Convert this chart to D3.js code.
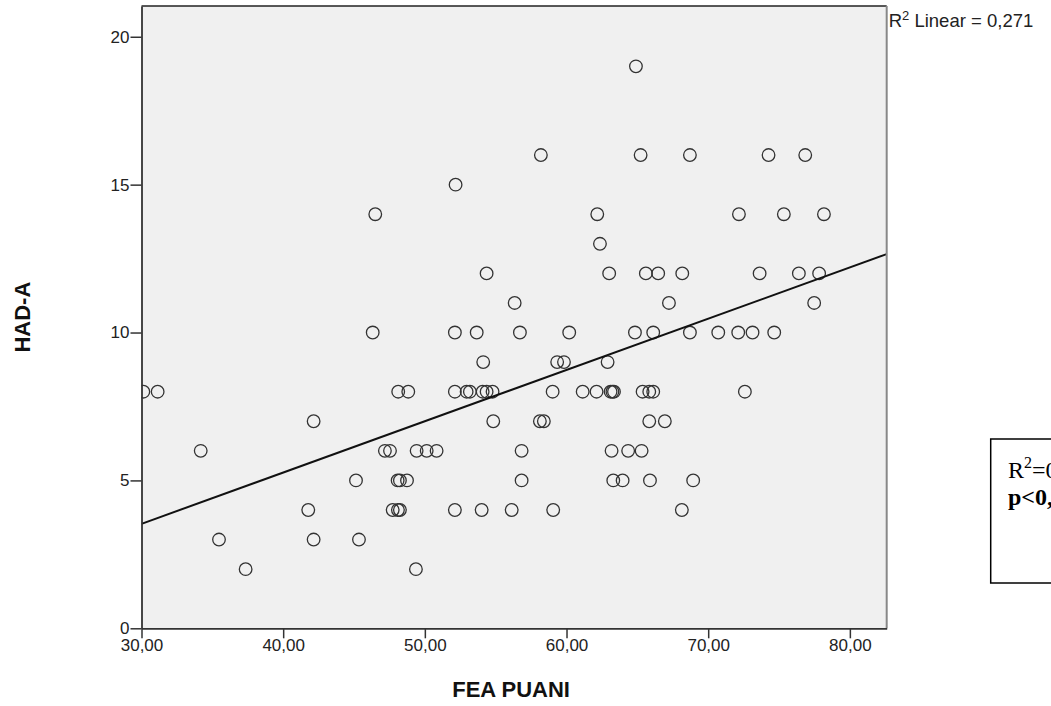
<!DOCTYPE html>
<html>
<head>
<meta charset="utf-8">
<script src="https://cdn.jsdelivr.net/npm/d3@7"></script>
<style>
  body { margin: 0; background: #fff; }
  svg { display: block; font-family: "Liberation Sans", Arial, sans-serif; }
</style>
</head>
<body>
<svg></svg>
<script>
// FEA PUANI (x) vs HAD-A (y), one entry per subject, grouped by HAD-A row
const feaScores = [
  64.90,
  58.19, 65.23, 68.71, 74.26, 76.85,
  52.17,
  46.50, 62.17, 72.17, 75.34, 78.17,
  62.36,
  54.36, 63.01, 65.60, 66.47, 68.17, 73.63, 76.40, 77.83,
  56.34, 67.23, 77.48,
  46.32, 52.12, 53.66, 56.71, 60.19, 64.83, 66.12, 68.71, 70.71, 72.12, 73.13, 74.66,
  54.12, 59.34, 59.82, 62.90,
  30.13, 31.14, 48.12, 48.83, 52.12, 52.95, 53.18, 54.08, 54.36, 54.78, 59.02, 61.14,
  62.12, 63.11, 63.24, 63.35, 65.37, 65.84, 66.12, 72.59,
  42.15, 54.83, 58.12, 58.40, 65.84, 66.94,
  34.18, 47.18, 47.54, 49.42, 50.13, 50.83, 56.83, 63.18, 64.35, 65.30,
  45.14, 48.08, 48.24, 48.74, 56.83, 63.30, 63.96, 65.89, 68.94,
  41.77, 47.73, 48.10, 48.24, 52.12, 54.01, 56.13, 59.06, 68.14,
  35.47, 42.15, 45.35,
  37.35, 49.37
];

const hadAScores = [
  19,
  16, 16, 16, 16, 16,
  15,
  14, 14, 14, 14, 14,
  13,
  12, 12, 12, 12, 12, 12, 12, 12,
  11, 11, 11,
  10, 10, 10, 10, 10, 10, 10, 10, 10, 10, 10, 10,
  9, 9, 9, 9,
  8, 8, 8, 8, 8, 8, 8, 8, 8, 8, 8, 8,
  8, 8, 8, 8, 8, 8, 8, 8,
  7, 7, 7, 7, 7, 7,
  6, 6, 6, 6, 6, 6, 6, 6, 6, 6,
  5, 5, 5, 5, 5, 5, 5, 5, 5,
  4, 4, 4, 4, 4, 4, 4, 4, 4,
  3, 3, 3,
  2, 2
];

// Axis ranges and ticks
const xDomain = [30, 82.6];
const yDomain = [0, 21.04];
const xTicks = [30, 40, 50, 60, 70, 80];
const yTicks = [0, 5, 10, 15, 20];

// Linear fit line (intercept, slope) as drawn on the chart
const fitIntercept = -1.67;
const fitSlope = 0.1734;
const r2Value = "0,271";
const pValue = "0,001";

const points = feaScores.map((x, i) => ({ x, y: hadAScores[i] }));

const width = 1051;
const height = 706;
const margin = { top: 6, right: 164.3, bottom: 77.7, left: 141.5 };
const plotW = width - margin.left - margin.right;
const plotH = height - margin.top - margin.bottom;

const svg = d3.select("svg").attr("width", width).attr("height", height);

const x = d3.scaleLinear().domain(xDomain).range([0, plotW]);
const y = d3.scaleLinear().domain(yDomain).range([plotH, 0]);

const g = svg.append("g").attr("transform", `translate(${margin.left},${margin.top})`);

// Plot background
g.append("rect")
  .attr("width", plotW)
  .attr("height", plotH)
  .attr("fill", "#f0f0f0");

g.append("clipPath")
  .attr("id", "plot-clip")
  .append("rect")
  .attr("width", plotW)
  .attr("height", plotH);

// Points (hollow circles, clipped to the frame)
g.append("g")
  .attr("clip-path", "url(#plot-clip)")
  .selectAll("circle")
  .data(points)
  .join("circle")
  .attr("cx", (d) => x(d.x))
  .attr("cy", (d) => y(d.y))
  .attr("r", 6.3)
  .attr("fill", "none")
  .attr("stroke", "#333")
  .attr("stroke-width", 1.3);

// Fit line across the full x range
const fitData = xDomain.map((v) => ({ x: v, y: fitIntercept + fitSlope * v }));
g.append("path")
  .datum(fitData)
  .attr("clip-path", "url(#plot-clip)")
  .attr("d", d3.line().x((d) => x(d.x)).y((d) => y(d.y)))
  .attr("fill", "none")
  .attr("stroke", "#111")
  .attr("stroke-width", 2);

// Frame: top and right edges
g.append("line")
  .attr("x1", 0).attr("x2", plotW).attr("y1", 0).attr("y2", 0)
  .attr("stroke", "#222").attr("stroke-width", 1.5);
g.append("line")
  .attr("x1", plotW).attr("x2", plotW).attr("y1", 0).attr("y2", plotH)
  .attr("stroke", "#888").attr("stroke-width", 2);

// Axes
const fmt = (d) => d3.format(".2f")(d).replace(".", ",");

const xAxis = g.append("g")
  .attr("transform", `translate(0,${plotH})`)
  .call(d3.axisBottom(x).tickValues(xTicks).tickFormat(fmt).tickSize(10).tickPadding(1).tickSizeOuter(0));

const yAxis = g.append("g")
  .call(d3.axisLeft(y).tickValues(yTicks).tickSize(11).tickPadding(1).tickSizeOuter(0));

[xAxis, yAxis].forEach((ax) => {
  ax.select(".domain").attr("stroke", "#333").attr("stroke-width", 1.8);
  ax.selectAll(".tick line").attr("stroke", "#333").attr("stroke-width", 1.5);
  ax.selectAll(".tick text")
    .attr("fill", "#222")
    .style("font-family", "'Liberation Sans', Arial, sans-serif")
    .style("font-size", "17px");
});

// Axis titles
svg.append("text")
  .attr("x", margin.left + plotW / 2 - 3)
  .attr("y", 697)
  .attr("text-anchor", "middle")
  .style("font-size", "22px")
  .style("font-weight", "bold")
  .attr("fill", "#111")
  .text("FEA PUANI");

svg.append("text")
  .attr("transform", `translate(30,${margin.top + plotH / 2}) rotate(-90)`)
  .attr("text-anchor", "middle")
  .style("font-size", "22px")
  .style("font-weight", "bold")
  .attr("fill", "#111")
  .text("HAD-A");

// R-squared label at top right of the frame
const r2 = svg.append("text")
  .attr("x", margin.left + plotW + 2)
  .attr("y", 27)
  .style("font-size", "18.5px")
  .attr("fill", "#222");
r2.append("tspan").text("R");
r2.append("tspan").attr("dy", -7).style("font-size", "13px").text("2");
r2.append("tspan").attr("dy", 7).text(` Linear = ${r2Value}`);

// Annotation box on the right edge (cut by the page edge, as in the source)
const box = svg.append("g");
box.append("rect")
  .attr("x", 990.7)
  .attr("y", 439)
  .attr("width", 120)
  .attr("height", 144)
  .attr("fill", "#fff")
  .attr("stroke", "#000")
  .attr("stroke-width", 1.5);

const t1 = box.append("text")
  .attr("x", 1008)
  .attr("y", 478)
  .style("font-family", "'Liberation Serif', 'Times New Roman', serif")
  .style("font-size", "24px")
  .attr("fill", "#000");
t1.append("tspan").text("R");
t1.append("tspan").attr("dy", -10).style("font-size", "16px").text("2");
t1.append("tspan").attr("dy", 10).text(`=${r2Value}`);

box.append("text")
  .attr("x", 1008)
  .attr("y", 505)
  .style("font-family", "'Liberation Serif', 'Times New Roman', serif")
  .style("font-size", "24px")
  .style("font-weight", "bold")
  .attr("fill", "#000")
  .text(`p<${pValue}`);
</script>
</body>
</html>
